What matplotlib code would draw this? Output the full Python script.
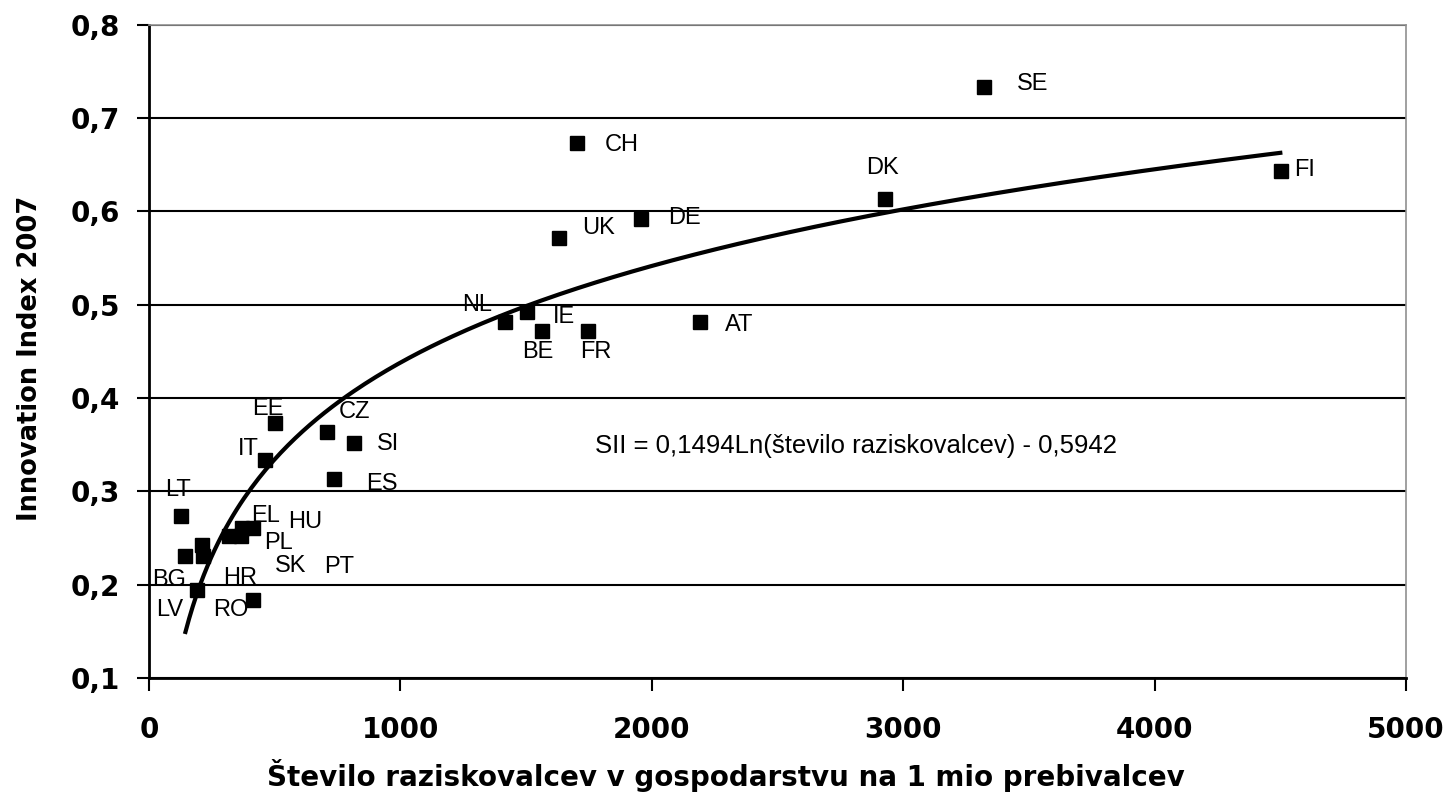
import numpy as np
import matplotlib
matplotlib.use("Agg")
import matplotlib.pyplot as plt
from matplotlib.ticker import FuncFormatter

# drzave, stevilo raziskovalcev v gospodarstvu na 1 mio prebivalcev, SII 2007
countries = ["SE", "CH", "DK", "FI", "UK", "DE", "NL", "IE", "BE", "FR", "AT",
             "EE", "CZ", "SI", "IT", "ES", "LT",
             "EL", "HU", "PL", "SK", "PT", "BG", "HR", "LV", "RO"]
researchers = [3323, 1703, 2929, 4501, 1632, 1958, 1417, 1503, 1563, 1748, 2193,
               501, 707, 815, 462, 736, 127,
               369, 415, 366, 320, 214, 143, 210, 190, 415]
sii = [0.733, 0.673, 0.613, 0.643, 0.571, 0.592, 0.481, 0.492, 0.472, 0.472, 0.481,
       0.373, 0.363, 0.352, 0.333, 0.313, 0.273,
       0.261, 0.261, 0.252, 0.252, 0.231, 0.231, 0.2425, 0.194, 0.184]

# premik oznak (v pikslih) glede na tocko
label_off = {
    "SE": (48, 3), "CH": (45, -2), "DK": (-3, 31), "FI": (24, 1),
    "UK": (39, 10), "DE": (43, 1), "NL": (-28, 17), "IE": (37, -5),
    "BE": (-4, -21), "FR": (7, -21), "AT": (39, -3),
    "EE": (-7, 14), "CZ": (28, 20), "SI": (34, -1), "IT": (-17, 11),
    "ES": (48, -5), "LT": (-3, 26),
    "EL": (24, 12), "HU": (52, 6), "PL": (37, -7), "SK": (61, -30),
    "PT": (136, -11), "BG": (-16, -24), "HR": (38, -33), "LV": (-27, -20),
    "RO": (-23, -10),
}

# logaritemski trend
a, b = 0.1494, -0.5942
trend_x = np.linspace(145, 4500, 300)
trend_y = a * np.log(trend_x) + b

fig = plt.figure(figsize=(14.52, 8.07), dpi=100)
ax = fig.add_axes([149/1452, 129/807, 1257/1452, 653.5/807])

ax.plot(trend_x, trend_y, color="black", lw=3, zorder=3)
ax.plot(researchers, sii, "s", color="black", ms=9.5, zorder=4)

for c, x, y in zip(countries, researchers, sii):
    dx, dy = label_off[c]
    ax.annotate(c, (x, y), xytext=(dx, dy), textcoords="offset pixels",
                ha="center", va="center", fontsize=17,
                family="Liberation Sans", annotation_clip=False, zorder=5)

ax.text(0.355, 0.355, "SII = 0,1494Ln(število raziskovalcev) - 0,5942",
        transform=ax.transAxes, fontsize=18.5, family="Liberation Sans",
        va="center", ha="left")

ax.set_xlim(0, 5000)
ax.set_ylim(0.1, 0.8)
ax.set_xticks(np.arange(0, 5001, 1000))
ax.set_yticks(np.arange(0.1, 0.81, 0.1))
ax.yaxis.set_major_formatter(FuncFormatter(lambda v, p: f"{v:.1f}".replace(".", ",")))

ax.yaxis.grid(True, color="black", lw=1.5)
ax.set_axisbelow(True)
for s in ["top", "right"]:
    ax.spines[s].set_color("#909090")
    ax.spines[s].set_linewidth(1.2)
for s in ["left", "bottom"]:
    ax.spines[s].set_linewidth(2)
ax.tick_params(axis="both", direction="out", length=9, width=1.5,
               labelsize=20)
ax.tick_params(axis="x", pad=18)
ax.tick_params(axis="y", pad=12)
for lab in ax.get_xticklabels() + ax.get_yticklabels():
    lab.set_fontweight("bold")
    lab.set_family("DejaVu Sans")

fig.text(0.5, 1 - 775/807, "Število raziskovalcev v gospodarstvu na 1 mio prebivalcev",
         ha="center", va="center", fontsize=20, fontweight="bold",
         family="DejaVu Sans")
fig.text(30/1452, 1 - 358/807, "Innovation Index 2007", rotation=90,
         ha="center", va="center", fontsize=18.5, fontweight="bold",
         family="DejaVu Sans")

fig.savefig("out.png", dpi=100)
